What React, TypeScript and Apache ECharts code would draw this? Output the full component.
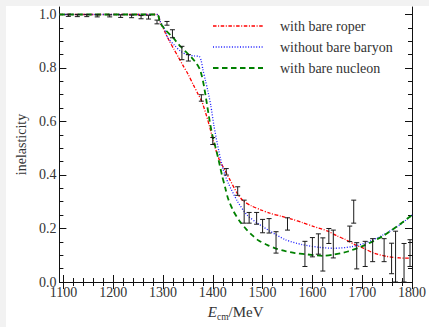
import React, { useEffect, useRef } from "react";
import * as echarts from "echarts";

const X_MIN = 1092;
const X_MAX = 1800;
const Y_MIN = 0;
const Y_MAX = 1.028;

const xMajor = [1100, 1200, 1300, 1400, 1500, 1600, 1700, 1800];
const xMinor = [1120, 1140, 1160, 1180, 1220, 1240, 1260, 1280, 1320, 1340, 1360, 1380, 1420, 1440, 1460, 1480, 1520, 1540, 1560, 1580, 1620, 1640, 1660, 1680, 1720, 1740, 1760, 1780];
const yMajor = [0, 0.2, 0.4, 0.6, 0.8, 1.0];
const yMinor = [0.05, 0.1, 0.15, 0.25, 0.3, 0.35, 0.45, 0.5, 0.55, 0.65, 0.7, 0.75, 0.85, 0.9, 0.95];

const legendNames = ["with bare roper", "without bare baryon", "with bare nucleon"];

// with bare roper (red, dash-dot)
const roperE = [1092, 1288, 1295, 1305, 1313, 1322, 1331, 1340, 1350, 1361, 1371, 1378, 1386, 1393, 1402, 1412, 1425, 1435, 1448, 1460, 1477, 1496, 1515, 1537, 1560, 1580, 1602, 1631, 1650, 1665, 1685, 1704, 1723, 1748, 1775, 1795];
const roperV = [1.0, 1.0, 0.97, 0.93, 0.9, 0.87, 0.84, 0.81, 0.778, 0.737, 0.7, 0.675, 0.63, 0.585, 0.52, 0.462, 0.415, 0.38, 0.335, 0.305, 0.285, 0.27, 0.257, 0.246, 0.234, 0.222, 0.208, 0.19, 0.172, 0.16, 0.14, 0.125, 0.108, 0.096, 0.09, 0.089];

// without bare baryon (blue, dotted)
const baryonE = [1092, 1288, 1295, 1302, 1310, 1323, 1335, 1348, 1363, 1373, 1377, 1380, 1385, 1390, 1396, 1402, 1412, 1421, 1431, 1450, 1469, 1488, 1515, 1546, 1579, 1612, 1642, 1679, 1710, 1742, 1775, 1800];
const baryonV = [1.0, 1.0, 0.972, 0.95, 0.912, 0.885, 0.863, 0.85, 0.845, 0.843, 0.825, 0.795, 0.755, 0.715, 0.66, 0.588, 0.49, 0.42, 0.37, 0.3, 0.25, 0.222, 0.19, 0.158, 0.14, 0.13, 0.126, 0.132, 0.148, 0.176, 0.213, 0.25];

// with bare nucleon (green, dashed)
const nucleonE = [1092, 1288, 1294, 1306, 1319, 1333, 1345, 1358, 1368, 1374, 1378, 1382, 1387, 1393, 1399, 1406, 1412, 1419, 1425, 1431, 1442, 1454, 1467, 1479, 1492, 1510, 1527, 1546, 1565, 1585, 1621, 1642, 1671, 1704, 1742, 1775, 1800];
const nucleonV = [1.0, 1.0, 0.97, 0.94, 0.916, 0.885, 0.862, 0.838, 0.815, 0.795, 0.77, 0.735, 0.68, 0.61, 0.55, 0.5, 0.453, 0.395, 0.352, 0.31, 0.263, 0.227, 0.198, 0.175, 0.155, 0.138, 0.125, 0.115, 0.108, 0.104, 0.098, 0.102, 0.114, 0.137, 0.172, 0.215, 0.25];

// experimental points (centre and half-width of error bar)
const ptE = [1110, 1128, 1147, 1168, 1193, 1215, 1237, 1256, 1271, 1288, 1308, 1319, 1338, 1351, 1377, 1400, 1427, 1450, 1463, 1473, 1488, 1500, 1513, 1527, 1550, 1585, 1600, 1612, 1621, 1633, 1642, 1675, 1683, 1689, 1706, 1721, 1744, 1759, 1767, 1784, 1796];
const ptV = [0.997, 0.996, 0.996, 0.995, 0.995, 0.994, 0.993, 0.99, 0.99, 0.972, 0.967, 0.928, 0.856, 0.838, 0.688, 0.527, 0.412, 0.34, 0.263, 0.24, 0.238, 0.209, 0.21, 0.148, 0.217, 0.105, 0.13, 0.142, 0.103, 0.172, 0.142, 0.18, 0.263, 0.098, 0.105, 0.119, 0.119, 0.088, 0.095, 0.072, 0.108];
const ptErr = [0.004, 0.004, 0.004, 0.004, 0.004, 0.005, 0.005, 0.006, 0.007, 0.007, 0.007, 0.015, 0.025, 0.012, 0.012, 0.013, 0.012, 0.016, 0.043, 0.02, 0.022, 0.025, 0.027, 0.04, 0.023, 0.047, 0.036, 0.038, 0.062, 0.028, 0.052, 0.029, 0.043, 0.049, 0.047, 0.043, 0.043, 0.057, 0.095, 0.072, 0.05];

const FONT = "'Liberation Serif', 'DejaVu Serif', serif";
const TXT = "#333";
const AX = "#111";

const RED = "#ff0000";
const BLUE = "#1a1aff";
const GREEN = "#008000";
const redDash = [3.5, 1.6, 1, 1.6];
const blueDash = [1, 1.7];
const greenDash = [5.5, 3.5];

export default function App() {
  const ref = useRef<HTMLDivElement>(null);
  useEffect(() => {
    if (!ref.current) return;
    const chart = echarts.init(ref.current, null, { renderer: "svg" });
    const xBase = { type: "value", min: X_MIN, max: X_MAX, splitLine: { show: false } };
    const yBase = { type: "value", min: Y_MIN, max: Y_MAX, splitLine: { show: false } };
    const tickStyle = { color: AX, width: 1 };
    const option: any = {
      animation: false,
      backgroundColor: "#ffffff",
      textStyle: { fontFamily: FONT },
      grid: { left: 41, right: 14, top: 1, bottom: 34, containLabel: false },
      xAxis: [
        {
          ...xBase,
          position: "bottom",
          axisLine: { show: true, lineStyle: { color: AX, width: 1 } },
          axisTick: { show: true, inside: true, length: 7, customValues: xMajor, lineStyle: tickStyle },
          axisLabel: {
            show: true,
            customValues: xMajor,
            margin: 3,
            fontFamily: FONT,
            fontSize: 14,
            color: TXT,
            formatter: (v: number) => String(Math.round(v)),
          },
          name: "{i|E}{s|cm}{n|/MeV}",
          nameLocation: "middle",
          nameGap: 20,
          nameTextStyle: {
            fontFamily: FONT,
            color: TXT,
            rich: {
              i: { fontFamily: FONT, fontStyle: "italic", fontSize: 15, color: TXT, verticalAlign: "bottom", lineHeight: 17 },
              s: { fontFamily: FONT, fontSize: 9.5, color: TXT, verticalAlign: "bottom", lineHeight: 10, padding: [0, 0, -3, 0] },
              n: { fontFamily: FONT, fontSize: 15, color: TXT, verticalAlign: "bottom", lineHeight: 17 },
            },
          },
        },
        {
          ...xBase,
          position: "bottom",
          axisLine: { show: false },
          axisTick: { show: true, inside: true, length: 4, customValues: xMinor, lineStyle: tickStyle },
          axisLabel: { show: false },
        },
        {
          ...xBase,
          position: "top",
          axisLine: { show: true, lineStyle: { color: AX, width: 1 } },
          axisTick: { show: true, inside: true, length: 7, customValues: xMajor, lineStyle: tickStyle },
          axisLabel: { show: false },
        },
        {
          ...xBase,
          position: "top",
          axisLine: { show: false },
          axisTick: { show: true, inside: true, length: 4, customValues: xMinor, lineStyle: tickStyle },
          axisLabel: { show: false },
        },
      ],
      yAxis: [
        {
          ...yBase,
          position: "left",
          axisLine: { show: true, lineStyle: { color: AX, width: 1 } },
          axisTick: { show: true, inside: true, length: 7, customValues: yMajor, lineStyle: tickStyle },
          axisLabel: {
            show: true,
            customValues: yMajor,
            margin: 3,
            fontFamily: FONT,
            fontSize: 14,
            color: TXT,
            formatter: (v: number) => v.toFixed(1),
          },
          name: "inelasticity",
          nameLocation: "middle",
          nameGap: 31,
          nameRotate: 90,
          nameTextStyle: { fontFamily: FONT, fontSize: 14, color: TXT },
        },
        {
          ...yBase,
          position: "left",
          axisLine: { show: false },
          axisTick: { show: true, inside: true, length: 4, customValues: yMinor, lineStyle: tickStyle },
          axisLabel: { show: false },
        },
        {
          ...yBase,
          position: "right",
          axisLine: { show: true, lineStyle: { color: AX, width: 1 } },
          axisTick: { show: true, inside: true, length: 7, customValues: yMajor, lineStyle: tickStyle },
          axisLabel: { show: false },
        },
        {
          ...yBase,
          position: "right",
          axisLine: { show: false },
          axisTick: { show: true, inside: true, length: 4, customValues: yMinor, lineStyle: tickStyle },
          axisLabel: { show: false },
        },
      ],
      series: [
        {
          name: legendNames[0],
          type: "line",
          data: roperE.map((e, i) => [e, roperV[i]]),
          symbol: "none",
          smooth: 0.25,
          lineStyle: { color: RED, width: 1.3, type: redDash },
          z: 2,
        },
        {
          name: legendNames[1],
          type: "line",
          data: baryonE.map((e, i) => [e, baryonV[i]]),
          symbol: "none",
          smooth: 0.25,
          lineStyle: { color: BLUE, width: 1.3, type: blueDash },
          z: 3,
        },
        {
          name: legendNames[2],
          type: "line",
          data: nucleonE.map((e, i) => [e, nucleonV[i]]),
          symbol: "none",
          smooth: 0.25,
          lineStyle: { color: GREEN, width: 1.8, type: greenDash },
          z: 4,
        },
        {
          type: "custom",
          z: 6,
          encode: { x: 0, y: [1, 2] },
          data: ptE.map((e, i) => [e, ptV[i] - ptErr[i], ptV[i] + ptErr[i]]),
          renderItem: (params: any, api: any) => {
            const x = api.value(0);
            const lo = api.coord([x, Math.max(api.value(1), 0)]);
            const hi = api.coord([x, api.value(2)]);
            const w = 2.5;
            const st = { stroke: "#1a1a1a", lineWidth: 1 };
            return {
              type: "group",
              children: [
                { type: "line", shape: { x1: lo[0], y1: lo[1], x2: hi[0], y2: hi[1] }, style: st },
                { type: "line", shape: { x1: lo[0] - w, y1: lo[1], x2: lo[0] + w, y2: lo[1] }, style: st },
                { type: "line", shape: { x1: hi[0] - w, y1: hi[1], x2: hi[0] + w, y2: hi[1] }, style: st },
              ],
            };
          },
        },
      ],
      graphic: [
        { type: "line", shape: { x1: 207, y1: 20, x2: 257, y2: 20 }, style: { stroke: RED, lineWidth: 1.3, lineDash: redDash } },
        { type: "line", shape: { x1: 207, y1: 41, x2: 257, y2: 41 }, style: { stroke: BLUE, lineWidth: 1.3, lineDash: blueDash } },
        { type: "line", shape: { x1: 207, y1: 62, x2: 257, y2: 62 }, style: { stroke: GREEN, lineWidth: 1.8, lineDash: greenDash } },
        { type: "text", x: 274, y: 20, style: { text: legendNames[0], fontFamily: FONT, fontSize: 14, fill: TXT, verticalAlign: "middle" } },
        { type: "text", x: 274, y: 41, style: { text: legendNames[1], fontFamily: FONT, fontSize: 14, fill: TXT, verticalAlign: "middle" } },
        { type: "text", x: 274, y: 62, style: { text: legendNames[2], fontFamily: FONT, fontSize: 14, fill: TXT, verticalAlign: "middle" } },
      ],
    };
    chart.setOption(option);
    return () => chart.dispose();
  }, []);
  return (
    <div style={{ position: "fixed", left: 0, top: 0, width: 429, height: 327, background: "#f2f2f2", overflow: "hidden" }}>
      <div ref={ref} style={{ position: "absolute", left: 6, top: 6, width: 423, height: 321, background: "#ffffff" }} />
    </div>
  );
}
